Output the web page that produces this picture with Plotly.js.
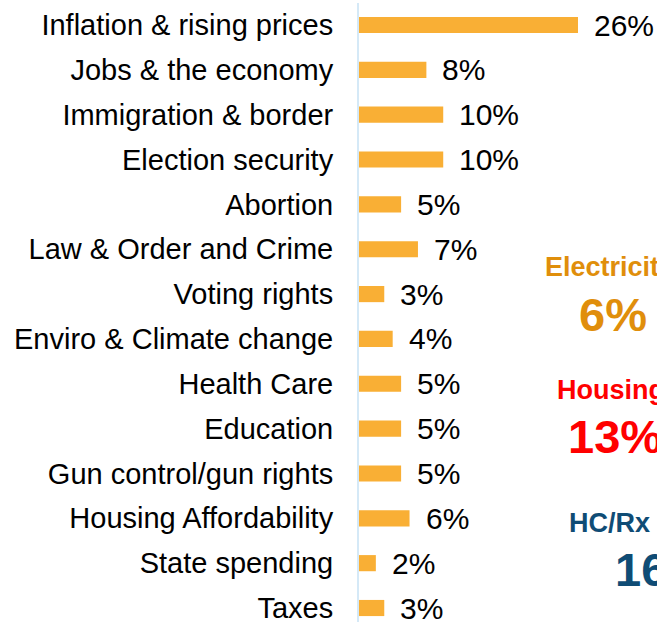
<!DOCTYPE html>
<html>
<head>
<meta charset="utf-8">
<script src="https://cdn.plot.ly/plotly-3.0.1.min.js"></script>
<style>
html,body{margin:0;padding:0;background:#fff;overflow:hidden;}
#chart{width:657px;height:622px;}
</style>
</head>
<body>
<div id="chart"></div>
<script>
const categories = [
  "Inflation & rising prices",
  "Jobs & the economy",
  "Immigration & border",
  "Election security",
  "Abortion",
  "Law & Order and Crime",
  "Voting rights",
  "Enviro & Climate change",
  "Health Care",
  "Education",
  "Gun control/gun rights",
  "Housing Affordability",
  "State spending",
  "Taxes"
];
const values = [26, 8, 10, 10, 5, 7, 3, 4, 5, 5, 5, 6, 2, 3];
const valueLabels = values.map(v => v + "%");

const sideLabels = ["Electricity", "Housing", "HC/Rx"];
const sideValues = ["6%", "13%", "16%"];
const sideColors = ["#E08E0B", "#FF0000", "#0F4C75"];

const font = "Liberation Sans, Arial, sans-serif";

const trace = {
  type: "bar",
  orientation: "h",
  x: values,
  y: categories,
  marker: {color: "#F9AF35"},
  hoverinfo: "none"
};

const annotations = values.map((v, i) => ({
  x: v, y: categories[i], xref: "x", yref: "y",
  text: valueLabels[i], showarrow: false,
  xanchor: "left", yanchor: "middle", xshift: 14,
  font: {family: font, size: 30, color: "#000"}
}));

// side notes (paper coords)
const sidePos = [
  {lx: 0.842, ly: 0.573, vx: 0.853, vy: 0.496},
  {lx: 0.844, ly: 0.375, vx: 0.86, vy: 0.30},
  {lx: 0.84, ly: 0.16, vx: 0.851, vy: 0.085}
];
sideLabels.forEach((t, i) => {
  annotations.push({
    xref: "paper", yref: "paper", x: sidePos[i].lx, y: sidePos[i].ly,
    text: "<b>" + t + "</b>", showarrow: false, xanchor: "center", yanchor: "middle",
    font: {family: font, size: 27, color: sideColors[i]}
  });
  annotations.push({
    xref: "paper", yref: "paper", x: sidePos[i].vx, y: sidePos[i].vy,
    text: "<b>" + sideValues[i] + "</b>", showarrow: false,
    xanchor: i === 2 ? "left" : "center", yanchor: "middle",
    font: {family: font, size: 47, color: sideColors[i]}
  });
});

const layout = {
  width: 657, height: 622,
  margin: {l: 359, r: 0, t: 3, b: 0, pad: 0},
  paper_bgcolor: "#fff", plot_bgcolor: "#fff",
  bargap: 0.64,
  showlegend: false,
  xaxis: {
    range: [0, 35.38], visible: false, fixedrange: true
  },
  yaxis: {
    type: "category",
    range: [13.312, -0.4906],
    showline: true, linecolor: "#D5E9F7", linewidth: 2,
    showgrid: false, zeroline: false,
    ticks: "", ticklabelstandoff: 18,
    tickfont: {family: font, size: 29, color: "#000"},
    fixedrange: true
  },
  annotations: annotations
};

Plotly.newPlot("chart", [trace], layout, {displayModeBar: false, staticPlot: true});
</script>
</body>
</html>
